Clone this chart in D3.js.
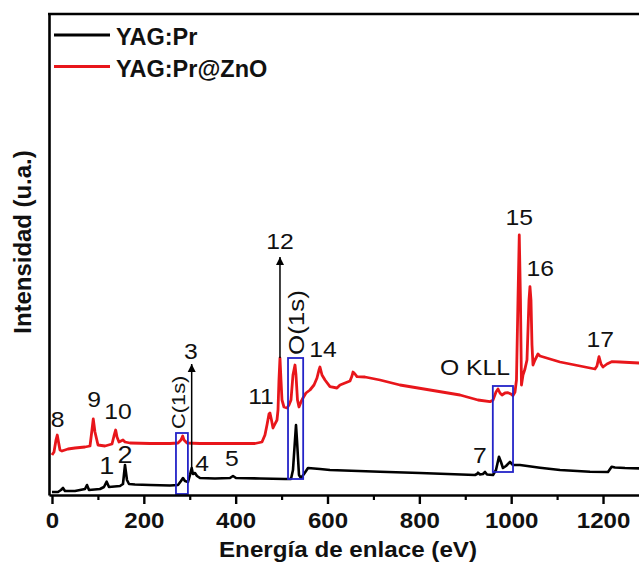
<!DOCTYPE html>
<html><head><meta charset="utf-8">
<script src="https://cdn.jsdelivr.net/npm/d3@7/dist/d3.min.js"></script>
<style>html,body{margin:0;padding:0;background:#fff;} svg{display:block;}</style>
</head><body>
<svg id="chart" width="639" height="562"></svg>
<script>
// ---------------- DATA ----------------
const seriesNames = ["YAG:Pr", "YAG:Pr@ZnO"];
const xTicks = [0, 200, 400, 600, 800, 1000, 1200];
const xMinorTicks = [100, 300, 500, 700, 900, 1100, 1300];
const xTitle = "Energía de enlace (eV)";
const yTitle = "Intensidad (u.a.)";

// YAG:Pr (black)
const blackEnergy = [0, 13, 19.6, 24, 28.3, 50.1, 71.9, 76.2, 80.6, 104.5, 113.2, 119.1, 124.1, 148.1, 154.6, 159, 163.3, 167.7, 180.7, 213.4, 257, 274.4, 280.9, 285.3, 289.6, 296.2, 300.5, 304.2, 307, 311.4, 315.8, 322.3, 355, 387.6, 394.2, 400.7, 453, 507.4, 520.5, 524.8, 529.2, 531.4, 533.5, 537.9, 542.2, 548.8, 557.5, 583.6, 605.4, 714.3, 801.4, 921.2, 925.5, 927.7, 932.1, 938.6, 943, 947.3, 960.4, 966.9, 973.4, 977.8, 982.1, 988.7, 997.4, 1003.9, 1019.2, 1062.7, 1106.3, 1171.6, 1210.8, 1218.8, 1226, 1247.8, 1291.4];
const blackIntensity = [300, 300, 500, 700, 400, 400, 600, 1000, 500, 600, 800, 1330, 800, 900, 1100, 3000, 1500, 1100, 1050, 1000, 950, 1000, 1400, 1700, 1400, 1300, 2000, 2700, 2100, 2200, 1900, 1700, 1650, 1700, 1900, 1700, 1650, 1600, 1600, 2500, 5500, 7000, 5500, 2000, 1700, 2100, 2700, 2600, 2500, 2330, 2200, 2000, 2100, 2230, 2050, 2100, 2300, 2050, 2000, 2500, 3830, 3300, 2700, 2900, 3300, 3000, 3000, 2730, 2500, 2330, 2300, 2830, 2750, 2700, 2650];

// YAG:Pr@ZnO (red)
const redEnergy = [0, 4.4, 8.7, 11.5, 14.2, 17.4, 21.8, 34.8, 50.1, 71.9, 82.8, 87.1, 89.9, 93.6, 100.2, 115.4, 130.7, 135, 138.7, 141.6, 145.9, 150.3, 154.6, 159, 169.9, 213.4, 257, 274.4, 280.9, 284.6, 287.5, 294, 322.3, 387.6, 442.1, 457.3, 463.8, 468.2, 472.6, 474.7, 478, 481.3, 485.6, 490, 492.2, 494.3, 496.5, 498.7, 500.9, 505.2, 511.8, 516.1, 520.5, 524.8, 529.2, 531.4, 534.6, 537.9, 542.2, 546.6, 553.1, 561.8, 570.6, 577.1, 581.4, 583.6, 588, 594.5, 605.4, 620.6, 627.2, 638.1, 649, 653.3, 655.5, 659.8, 664.2, 681.6, 692.5, 703.4, 714.3, 757.8, 823.2, 888.5, 927.7, 953.8, 960.4, 966.9, 971.3, 975.6, 980, 986.5, 993, 999.6, 1003.9, 1008.3, 1011.5, 1014.8, 1017.6, 1020.2, 1022.4, 1025.7, 1030, 1034.4, 1038.8, 1040.9, 1043.1, 1045.3, 1047.5, 1051.8, 1058.4, 1062.7, 1106.3, 1139, 1171.6, 1182.5, 1186.8, 1191.2, 1195.6, 1199.9, 1208.6, 1218.8, 1236.9, 1278.3, 1291.4];
const redIntensity = [4000, 4300, 5500, 6000, 5300, 4500, 4400, 4600, 4700, 4800, 4900, 6500, 7600, 6300, 5000, 4900, 5100, 5900, 6500, 5800, 5300, 5400, 5500, 5300, 5200, 5150, 5150, 5200, 5500, 5900, 5500, 5200, 5150, 5150, 5150, 5300, 6000, 7000, 8100, 8200, 7500, 6700, 7100, 7500, 8500, 11500, 13700, 11500, 9500, 8800, 8700, 9000, 9500, 12000, 13000, 12000, 9500, 8800, 9300, 9700, 10200, 10500, 11000, 11700, 12500, 12800, 12000, 11500, 10830, 10700, 11000, 11200, 11400, 11900, 12300, 12100, 11830, 11800, 11700, 11600, 11500, 11000, 10500, 10000, 9500, 9330, 9500, 10300, 10600, 10200, 10000, 10200, 10230, 10100, 9930, 10300, 11500, 19500, 26000, 19500, 11000, 12000, 12600, 13500, 19500, 20830, 19500, 15000, 13000, 13500, 14100, 13900, 13300, 13000, 12700, 12600, 12900, 13830, 13100, 12800, 13100, 13330, 13300, 13200, 13200];

// peak annotations: label, energy (eV), intensity at label baseline
const peakLabels = ["8", "9", "10", "1", "2", "3", "4", "5", "7", "11", "12", "14", "15", "16", "17", "O KLL"];
const peakLabelEnergy = [12.4, 91.5, 143.7, 119.1, 159, 302.7, 326.7, 392, 932, 455.1, 496.5, 590.1, 1017.6, 1063.4, 1194, 921.2];
const peakLabelIntensity = [6800, 8800, 7600, 2100, 3200, 13600, 2400, 2900, 3200, 9100, 24570, 13800, 27000, 21900, 14830, 12000];

// rotated region labels
const regionLabels = ["C(1s)", "O(1s)"];
const regionLabelEnergy = [289.6, 548.8];
const regionLabelIntensity = [6600, 14000];

// highlight boxes [e0, e1, i0, i1]
const boxEnergy0 = [270, 514, 960];
const boxEnergy1 = [296, 547, 1004];
const boxIntensity0 = [100, 1600, 2300];
const boxIntensity1 = [6200, 13700, 10900];

// truncated-peak arrows: energy, from intensity, to intensity
const arrowEnergy = [304.2, 496.5];
const arrowFrom = [2700, 13700];
const arrowTo = [13100, 23800];

// ---------------- DRAW ----------------
const svg = d3.select("#chart");
const FONT = "'Liberation Sans', Arial, Helvetica, sans-serif";
const x = d3.scaleLinear().domain([-6.5, 1300]).range([49, 49 + 1306.5 * 0.4592]);
const y = d3.scaleLinear().domain([0, 48100]).range([495, 14]);

svg.append("defs").append("clipPath").attr("id", "clip")
  .append("rect").attr("x", 49).attr("y", 14).attr("width", 640).attr("height", 481);

const plot = svg.append("g").attr("clip-path", "url(#clip)");
const line = d3.line().x(d => x(d[0])).y(d => y(d[1]));

const blackData = blackEnergy.map((e, i) => [e, blackIntensity[i]]);
const redData = redEnergy.map((e, i) => [e, redIntensity[i]]);

plot.append("path").datum(redData).attr("d", line)
  .attr("fill", "none").attr("stroke", "#e8161b").attr("stroke-width", 2.8).attr("stroke-linejoin", "round");
plot.append("path").datum(blackData).attr("d", line)
  .attr("fill", "none").attr("stroke", "#000").attr("stroke-width", 2.6).attr("stroke-linejoin", "round");

// boxes
boxEnergy0.forEach((e0, i) => {
  svg.append("rect")
    .attr("x", x(e0)).attr("y", y(boxIntensity1[i]))
    .attr("width", x(boxEnergy1[i]) - x(e0))
    .attr("height", y(boxIntensity0[i]) - y(boxIntensity1[i]))
    .attr("fill", "none").attr("stroke", "#2424c8").attr("stroke-width", 1.8);
});

// arrows
svg.append("defs").append("marker").attr("id", "ah")
  .attr("viewBox", "0 0 10 10").attr("refX", 10).attr("refY", 5)
  .attr("markerWidth", 8).attr("markerHeight", 13).attr("markerUnits", "userSpaceOnUse")
  .attr("orient", "auto")
  .append("path").attr("d", "M0,0 L10,5 L0,10 Z").attr("fill", "#000");
arrowEnergy.forEach((e, i) => {
  svg.append("line")
    .attr("x1", x(e)).attr("x2", x(e))
    .attr("y1", y(arrowFrom[i])).attr("y2", y(arrowTo[i]))
    .attr("stroke", "#000").attr("stroke-width", 1.5)
    .attr("marker-end", "url(#ah)");
});

// peak labels
peakLabels.forEach((t, i) => {
  const big = (t === "1" || t === "2");
  svg.append("text")
    .attr("transform", `translate(${x(peakLabelEnergy[i])},${y(peakLabelIntensity[i])}) scale(1.15,1)`)
    .attr("text-anchor", "middle")
    .attr("font-family", FONT).attr("font-size", big ? 23.5 : 21.5)
    .attr("fill", "#111").text(t);
});
const regionSizes = [18.5, 22];
regionLabels.forEach((t, i) => {
  svg.append("text")
    .attr("transform", `translate(${x(regionLabelEnergy[i])},${y(regionLabelIntensity[i])}) rotate(-90) scale(1.18,1)`)
    .attr("text-anchor", "start")
    .attr("font-family", FONT).attr("font-size", regionSizes[i])
    .attr("fill", "#111").text(t);
});

// axes
const gx = svg.append("g").attr("transform", "translate(0,495)")
  .call(d3.axisBottom(x).tickValues(xTicks).tickFormat(d3.format("d")).tickSize(9).tickPadding(9).tickSizeOuter(0));
gx.select(".domain").attr("stroke-width", 2.6);
gx.selectAll(".tick line").attr("stroke-width", 2.4);
gx.selectAll(".tick text").attr("font-family", FONT).attr("font-size", 21.5).attr("font-weight", "bold")
  .attr("fill", "#111").attr("transform", "scale(1.12,1)");

const gxm = svg.append("g").attr("transform", "translate(0,495)")
  .call(d3.axisBottom(x).tickValues(xMinorTicks).tickSize(5).tickFormat("").tickSizeOuter(0));
gxm.select(".domain").remove();
gxm.selectAll(".tick line").attr("stroke-width", 2.2);

const gy = svg.append("g").attr("transform", "translate(49,0)")
  .call(d3.axisLeft(y).tickValues([]).tickSizeOuter(0));
gy.select(".domain").attr("stroke-width", 2.6);

svg.append("line").attr("x1", 48).attr("x2", 650).attr("y1", 14).attr("y2", 14)
  .attr("stroke", "#000").attr("stroke-width", 2.6);

// axis titles
svg.append("text").attr("transform", "translate(348,557) scale(1.1,1)")
  .attr("text-anchor", "middle").attr("font-family", FONT).attr("font-size", 22).attr("font-weight", "bold")
  .attr("fill", "#111").text(xTitle);
svg.append("text").attr("transform", "translate(31,242) rotate(-90) scale(1.04,1)")
  .attr("text-anchor", "middle").attr("font-family", FONT).attr("font-size", 23).attr("font-weight", "bold")
  .attr("fill", "#111").text(yTitle);

// legend
const legendColors = ["#000", "#e8161b"];
const legendY = [35, 66.5];
seriesNames.forEach((n, i) => {
  svg.append("line").attr("x1", 54).attr("x2", 110).attr("y1", legendY[i]).attr("y2", legendY[i])
    .attr("stroke", legendColors[i]).attr("stroke-width", 3);
  svg.append("text").attr("x", 116).attr("y", legendY[i] + 10)
    .attr("font-family", FONT).attr("font-size", 23.5).attr("font-weight", "bold")
    .attr("fill", "#111").text(n);
});
</script>
</body></html>
